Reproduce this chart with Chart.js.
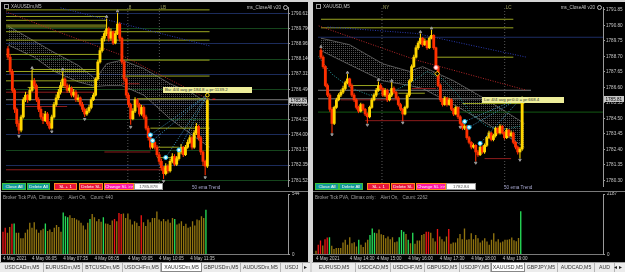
<!DOCTYPE html>
<html>
<head>
<meta charset="utf-8">
<title>XAUUSD M5</title>
<script src="https://cdn.jsdelivr.net/npm/chart.js@4.4.1/dist/chart.umd.min.js"></script>
<style>
  body { margin:0; width:625px; height:272px; overflow:hidden; background:#d4d4d4; position:relative; font-family:'Liberation Sans', Arial, sans-serif; }
  .pane { position:absolute; top:2px; height:260px; background:#000; overflow:hidden; }
  .pane canvas { position:absolute; left:0; }
  .sep { position:absolute; left:0; right:0; top:189px; height:1px; background:#7a7a7a; }
  .lbl { position:absolute; font-size:4.6px; line-height:5px; color:#c0c0c0; white-space:nowrap; }
  .ico { display:inline-block; width:3px; height:3px; border:1px solid #9a9a9a; margin-right:2px; vertical-align:middle; }
  .circ { display:inline-block; width:3px; height:3px; border:1px solid #bbb; border-radius:50%; margin-left:2px; vertical-align:middle; }
  .btn { position:absolute; top:181px; height:7px; box-sizing:border-box; border:1px solid; font-size:4.4px; line-height:5px; color:#fff; text-align:center; white-space:nowrap; }
  .teal { background:#139a9a; border-color:#3cc23c; }
  .red { background:#e8143c; border-color:#ff8a1a; }
  .pink { background:#ff18a8; border-color:#ff8a1a; }
  .box { background:#fff; border-color:#999; color:#555; }
  .note { position:absolute; height:6px; background:#eded9a; color:#333; font-size:4.4px; line-height:6px; padding-left:2px; white-space:nowrap; box-sizing:border-box; }
  .tabs { position:absolute; top:262px; height:10px; background:#ececec; border-top:1px solid #a0a0a0; box-sizing:border-box; }
  .tab { position:absolute; top:0; height:9px; font-size:5.2px; line-height:9px; color:#333; text-align:center; border-right:1px solid #b4b4b4; box-sizing:border-box; white-space:nowrap; overflow:hidden; }
  .tab.on { background:#fff; border:1px solid #888; border-top:none; }
  .arrow { position:absolute; top:0; font-size:6px; line-height:9px; color:#222; }
</style>
</head>
<body>

<div class="pane" style="left:1px;width:307px">
  <canvas id="mainL" width="307" height="189" style="top:0"></canvas>
  <div class="sep"></div>
  <canvas id="volL" width="307" height="70" style="top:190px"></canvas>
  <div class="lbl" style="left:3px;top:2px"><span class="ico"></span>XAUUSDm,M5</div>
  <div class="lbl" style="right:20px;top:3px">ms_CloseAll v20<span class="circ"></span></div>
  <div class="note" style="left:162px;top:85px;width:89px">Bu: 4/4 avg pr:184.8 = pr:1139.2</div>
  <div class="btn teal" style="left:1px;width:24px">Close All</div>
  <div class="btn teal" style="left:26px;width:23px">Delete All</div>
  <div class="btn red" style="left:53px;width:23px">SL + 1</div>
  <div class="btn red" style="left:78px;width:24px">Delete SL</div>
  <div class="btn pink" style="left:103px;width:30px">Change SL &gt;&gt;</div>
  <div class="btn box" style="left:133px;width:29px">1785.878</div>
  <div class="lbl" style="left:191px;top:183px;color:#a8a8d0">50 ema Trend</div>
  <div class="lbl" style="left:2px;top:193px;color:#a0a0a0">Broker Tick PVA, Climax only:&nbsp;&nbsp;&nbsp; Alert On,&nbsp;&nbsp; Count: 440</div>
</div>

<div class="pane" style="left:313px;width:312px">
  <canvas id="mainR" width="312" height="189" style="top:0"></canvas>
  <div class="sep"></div>
  <canvas id="volR" width="312" height="70" style="top:190px"></canvas>
  <div class="lbl" style="left:3px;top:2px"><span class="ico"></span>XAUUSD,M5</div>
  <div class="lbl" style="right:23px;top:3px">ms_CloseAll v20<span class="circ"></span></div>
  <div class="note" style="left:169px;top:95px;width:82px">Lo: 4/4 avg pr:0.0 = pr:668.4</div>
  <div class="btn teal" style="left:2px;width:24px">Close All</div>
  <div class="btn teal" style="left:26px;width:24px">Delete All</div>
  <div class="btn red" style="left:54px;width:23px">SL + 1</div>
  <div class="btn red" style="left:78px;width:24px">Delete SL</div>
  <div class="btn pink" style="left:103px;width:30px">Change SL &gt;&gt;</div>
  <div class="btn box" style="left:133px;width:30px">1782.84</div>
  <div class="lbl" style="left:191px;top:183px;color:#a8a8d0">50 ema Trend</div>
  <div class="lbl" style="left:2px;top:193px;color:#a0a0a0">Broker Tick PVA, Climax only:&nbsp;&nbsp;&nbsp; Alert On,&nbsp;&nbsp; Count: 2262</div>
</div>

<div class="tabs" id="tabsL" style="left:0;width:310px"></div>
<div class="tabs" id="tabsR" style="left:312px;width:313px"></div>

<script>
const FONT = "'Liberation Sans', Arial, sans-serif";
const BULL = '#ffd600';
const BEAR = '#ff3000';
const VOLCOL = { o: '#927510', r: '#ee1414', g: '#26dc58' };

// ---- left window: XAUUSDm, M5 ----
const openL = [
  1788.70,1788.24,1787.47,1786.43,1785.40,1784.62,1784.26,1784.98,1785.92,1786.17,
  1785.92,1786.43,1786.95,1786.69,1785.92,1785.40,1784.98,1784.78,1785.14,1784.62,
  1784.37,1784.98,1785.66,1786.02,1786.33,1786.69,1787.05,1786.69,1786.43,1786.54,
  1786.17,1786.33,1785.92,1786.02,1785.66,1785.40,1785.14,1785.30,1785.50,1785.92,
  1786.17,1787.05,1787.98,1788.60,1789.27,1789.53,1789.79,1789.27,1789.63,1789.01,
  1789.53,1790.05,1789.27,1787.98,1787.05,1786.17,1785.66,1784.88,1785.30,1785.92,
  1785.66,1785.14,1785.50,1784.98,1784.37,1783.85,1783.33,1783.59,1783.33,1782.92,
  1782.56,1782.20,1781.89,1782.30,1782.04,1782.56,1782.82,1782.40,1782.71,1783.07,
  1783.33,1782.92,1783.33,1783.59,1783.85,1783.33,1784.11,1784.47,1783.85,1783.07,
  1782.56,1782.30];
const highL = [
  1788.85,1788.40,1787.60,1786.55,1785.50,1784.80,1785.10,1786.05,1786.35,1786.25,
  1786.60,1787.55,1787.10,1786.80,1786.05,1785.55,1785.20,1785.30,1785.25,1784.75,
  1785.10,1785.80,1786.20,1786.50,1786.90,1787.45,1787.15,1786.80,1786.75,1786.65,
  1786.50,1786.45,1786.20,1786.10,1785.80,1785.50,1785.45,1785.65,1786.05,1786.30,
  1787.15,1788.10,1788.75,1789.40,1789.70,1790.35,1789.90,1789.80,1789.70,1789.70,
  1790.65,1790.15,1789.35,1788.10,1787.15,1786.30,1785.75,1785.45,1786.05,1786.00,
  1785.75,1785.65,1785.60,1785.10,1784.50,1783.95,1783.75,1783.70,1783.45,1783.05,
  1782.70,1782.30,1782.45,1782.40,1782.70,1783.00,1782.95,1782.85,1783.20,1783.50,
  1783.40,1783.45,1783.75,1784.00,1783.95,1784.25,1784.65,1784.55,1783.95,1783.15,
  1782.65,1785.95];
const lowL = [
  1788.10,1787.30,1786.30,1785.20,1784.45,1784.05,1784.15,1784.90,1785.80,1785.75,
  1785.85,1786.35,1786.50,1785.80,1785.25,1784.85,1784.60,1784.70,1784.50,1784.30,
  1784.30,1784.90,1785.55,1785.90,1786.20,1786.60,1786.55,1786.30,1786.30,1786.05,
  1786.05,1785.80,1785.80,1785.55,1785.25,1784.98,1785.05,1785.20,1785.40,1785.85,
  1786.10,1786.95,1787.90,1788.50,1789.10,1789.40,1789.10,1789.15,1788.90,1788.95,
  1789.45,1789.10,1787.85,1786.90,1786.00,1785.50,1784.55,1784.80,1785.20,1785.50,
  1785.00,1785.05,1784.85,1784.25,1783.70,1783.20,1783.25,1783.20,1782.80,1782.40,
  1782.05,1781.60,1781.80,1781.90,1781.95,1782.45,1782.30,1782.30,1782.60,1782.95,
  1782.80,1782.85,1783.25,1783.50,1783.20,1783.25,1784.00,1783.70,1782.90,1782.30,
  1781.80,1782.20];
const closeL = [
  1788.24,1787.47,1786.43,1785.40,1784.62,1784.26,1784.98,1785.92,1786.17,1785.92,
  1786.43,1786.95,1786.69,1785.92,1785.40,1784.98,1784.78,1785.14,1784.62,1784.37,
  1784.98,1785.66,1786.02,1786.33,1786.69,1787.05,1786.69,1786.43,1786.54,1786.17,
  1786.33,1785.92,1786.02,1785.66,1785.40,1785.14,1785.30,1785.50,1785.92,1786.17,
  1787.05,1787.98,1788.60,1789.27,1789.53,1789.79,1789.27,1789.63,1789.01,1789.53,
  1790.05,1789.27,1787.98,1787.05,1786.17,1785.66,1784.88,1785.30,1785.92,1785.66,
  1785.14,1785.50,1784.98,1784.37,1783.85,1783.33,1783.59,1783.33,1782.92,1782.56,
  1782.20,1781.89,1782.30,1782.04,1782.56,1782.82,1782.40,1782.71,1783.07,1783.33,
  1782.92,1783.33,1783.59,1783.85,1783.33,1784.11,1784.47,1783.85,1783.07,1782.56,
  1782.30,1785.878];
const volL = [
  206,241,197,247,276,279,197,197,147,147,
  197,226,285,241,291,226,197,218,232,279,
  212,226,203,241,265,247,206,379,344,335,
  353,329,329,315,306,285,262,226,285,320,
  365,335,300,320,294,335,279,276,265,306,
  320,300,373,365,368,329,368,315,270,300,
  285,256,353,291,256,315,291,329,329,388,
  315,300,320,300,315,285,329,320,270,279,
  300,256,276,241,250,300,262,315,309,344,
  329,403];
const volTypeL = ('rroorg' + 'ooooooooooooo' + 'g' + 'ooooooo' + 'ggg' + 'ooooooooo' + 'g' +
  'ooooo' + 'g' + 'oooo' + 'r' + 'o' + 'rr' + 'oooooooo' + 'r' + 'oooooooooooooo' + 'g' +
  'ooooooooooooo' + 'g').split('');
const priceTicksL = [1790.615, 1789.790, 1788.965, 1788.140, 1787.315, 1786.490,
  1785.650, 1784.825, 1784.000, 1783.175, 1782.350, 1781.525];
const dateAtL = [0, 13, 27, 41, 56, 70, 84];
const datesL = ['4 May 2021', '4 May 06:05', '4 May 07:35', '4 May 08:05', '4 May 09:05', '4 May 10:05', '4 May 11:35'];
// [price, from bar, to bar]
const levelsL = [
  [1790.82,-1,92],[1790.46,-1,45],[1790.25,-1,45],[1789.99,-1,45],[1789.89,-1,45],
  [1789.63,-1,92],[1789.17,-1,92],[1788.39,-1,42],[1788.08,51,92],[1787.57,11,40],
  [1787.46,-1,40],[1787.21,52,92],[1786.95,-1,40],[1786.59,9,40],[1785.97,59,92],
  [1784.37,65,92],[1783.33,68,78],[1782.76,68,78]];
const redLevelsL = [[1786.79,52,60],[1786.33,-1,40],[1785.55,8,27],[1783.07,44,65],[1782.10,-1,74]];
const greyLevelsL = [[1785.92,-1,128]];
const navyLevelsL = [];
const greenLevelsL = [];
// [bar, upper, lower]
const bandL = [[0,1789.94,1788.91],[12,1789.12,1788.24],[21,1788.50,1787.47],[32,1787.80,1786.90],
  [40,1787.05,1786.64],[45,1787.88,1786.69],[52,1788.08,1786.69],[62,1787.62,1786.17],
  [74,1786.79,1784.88],[84,1786.28,1784.00],[92,1785.66,1783.33]];
const maRedL = [[-1,1790.72],[25,1789.53],[51,1788.39],[92,1785.92]];
const maBlueL = [[24,1790.93],[58,1789.89],[92,1788.86]];
const maTealL = [];
const sessionsL = [54.7, 69.1];
const sessionTextL = ['8', 'LB'];
const ringsL = [[65,1784.00],[66,1783.69],[72,1782.77],[78,1783.18]];
const fanToL = [91, 1786.20];
const swingHighL = [[11,1787.65],[25,1787.58],[45,1790.45],[50,1790.75]];
const swingLowL = [[5,1783.93],[20,1784.18],[35,1784.86],[56,1784.43],[71,1781.48],[90,1781.68]];

// ---- right window: XAUUSD, M5 ----
const openR = [
  1789.10,1788.64,1788.00,1786.72,1786.07,1785.11,1784.15,1785.24,1785.75,1786.07,
  1786.27,1786.52,1786.91,1787.17,1786.72,1786.07,1785.75,1785.24,1784.98,1785.43,
  1785.11,1784.79,1784.60,1785.24,1785.75,1786.07,1786.40,1786.72,1786.52,1786.07,
  1786.40,1785.75,1786.07,1786.52,1786.27,1785.88,1785.43,1785.11,1784.79,1785.24,
  1786.07,1787.04,1788.00,1788.64,1789.28,1789.60,1789.93,1789.48,1789.73,1789.28,
  1789.93,1790.12,1789.28,1788.00,1786.72,1785.75,1785.43,1785.88,1785.43,1785.75,
  1785.11,1784.79,1785.24,1784.60,1784.15,1783.83,1783.96,1783.19,1782.87,1782.55,
  1782.67,1782.22,1782.03,1782.55,1782.22,1782.67,1783.19,1783.51,1783.06,1783.32,
  1783.83,1783.51,1783.96,1783.51,1783.19,1783.70,1783.32,1783.51,1782.87,1782.55,
  1782.22,1782.42];
const highR = [
  1789.25,1788.75,1788.10,1786.85,1786.20,1785.25,1785.35,1785.90,1786.20,1786.45,
  1786.70,1787.05,1787.50,1787.25,1786.85,1786.20,1785.85,1785.35,1785.55,1785.50,
  1785.20,1784.90,1785.35,1785.90,1786.20,1786.55,1787.00,1786.85,1786.60,1786.55,
  1786.50,1786.20,1786.95,1786.65,1786.35,1786.00,1785.55,1785.20,1785.35,1786.20,
  1787.15,1788.15,1788.80,1789.45,1789.75,1790.25,1790.00,1789.90,1789.80,1790.05,
  1790.50,1790.20,1789.35,1788.10,1786.85,1785.85,1786.00,1785.95,1785.90,1785.85,
  1785.20,1785.35,1785.30,1784.70,1784.25,1784.10,1784.05,1783.30,1782.95,1782.80,
  1782.75,1782.35,1782.70,1782.65,1782.80,1783.30,1783.65,1783.60,1783.45,1783.95,
  1783.90,1784.10,1784.05,1783.60,1783.85,1783.80,1783.65,1783.60,1782.95,1782.65,
  1782.55,1785.98];
const lowR = [
  1788.50,1787.85,1786.60,1785.95,1784.95,1783.50,1784.05,1785.15,1785.65,1785.95,
  1786.15,1786.40,1786.80,1786.60,1785.95,1785.60,1785.10,1784.85,1784.90,1785.00,
  1784.65,1784.15,1784.50,1785.15,1785.65,1785.95,1786.30,1786.40,1785.95,1785.95,
  1785.60,1785.65,1785.95,1786.15,1785.75,1785.30,1785.00,1784.30,1784.70,1785.15,
  1785.95,1786.95,1787.90,1788.55,1789.15,1789.50,1789.35,1789.40,1789.15,1789.20,
  1789.85,1789.15,1787.85,1786.60,1785.60,1785.30,1785.35,1785.30,1785.35,1785.00,
  1784.65,1784.70,1784.45,1784.00,1783.70,1783.70,1783.05,1782.75,1782.40,1782.45,
  1781.58,1781.90,1781.95,1782.10,1782.10,1782.55,1783.10,1782.95,1782.95,1783.20,
  1783.40,1783.40,1783.40,1783.05,1783.10,1783.20,1783.20,1782.75,1782.40,1782.05,
  1781.78,1782.30];
const closeR = [
  1788.64,1788.00,1786.72,1786.07,1785.11,1784.15,1785.24,1785.75,1786.07,1786.27,
  1786.52,1786.91,1787.17,1786.72,1786.07,1785.75,1785.24,1784.98,1785.43,1785.11,
  1784.79,1784.60,1785.24,1785.75,1786.07,1786.40,1786.72,1786.52,1786.07,1786.40,
  1785.75,1786.07,1786.52,1786.27,1785.88,1785.43,1785.11,1784.79,1785.24,1786.07,
  1787.04,1788.00,1788.64,1789.28,1789.60,1789.93,1789.48,1789.73,1789.28,1789.93,
  1790.12,1789.28,1788.00,1786.72,1785.75,1785.43,1785.88,1785.43,1785.75,1785.11,
  1784.79,1785.24,1784.60,1784.15,1783.83,1783.96,1783.19,1782.87,1782.55,1782.67,
  1782.22,1782.03,1782.55,1782.22,1782.67,1783.19,1783.51,1783.06,1783.32,1783.83,
  1783.51,1783.96,1783.51,1783.19,1783.70,1783.32,1783.51,1782.87,1782.55,1782.22,
  1782.42,1785.81];
const volR = [
  142,355,508,331,556,615,627,319,201,236,
  236,236,437,532,355,627,414,449,296,532,
  355,272,437,532,709,946,792,769,910,733,
  709,591,650,556,627,449,473,627,887,828,
  745,532,414,792,390,508,508,709,745,828,
  828,792,591,473,922,650,556,473,650,922,
  390,437,437,591,745,556,946,532,556,769,
  556,709,591,437,508,591,473,355,532,769,
  473,556,437,473,532,532,556,615,520,480,
  600,1560];
const volTypeR = ('orrorrg' + 'oooooooooooo' + 'g' + 'oooo' + 'ggg' + 'oooooooooo' + 'ggg' +
  'o' + 'g' + 'o' + 'g' + 'ooooo' + 'rr' + 'ooo' + 'r' + 'oooo' + 'r' +
  'ooooooooooooooooooooooooooooooo' + 'g').split('');
const priceTicksR = [1791.85, 1790.80, 1789.75, 1788.70, 1787.65, 1786.60,
  1785.55, 1784.50, 1783.45, 1782.40, 1781.35, 1780.30];
const dateAtR = [0, 15, 27, 41, 55, 69, 83];
const datesR = ['4 May 2021', '4 May 14:30', '4 May 15:00', '4 May 16:00', '4 May 17:30', '4 May 18:00', '4 May 19:00'];
const levelsR = [[1791.21,0,87],[1790.63,0,87],[1788.64,52,87],[1786.72,13,26],[1786.20,35,47],[1785.50,64,92]];
const redLevelsR = [[1786.52,41,52],[1785.75,9,35],[1784.34,20,63],[1781.77,74,86]];
const greyLevelsR = [[1786.40,-2,95],[1785.82,-2,95]];
const navyLevelsR = [[1789.99,-2,130]];
const greenLevelsR = [[1784.92,-2,130]];
const bandR = [[0,1789.93,1789.09],[13,1789.48,1788.13],[28,1788.19,1787.04],[40,1787.68,1786.72],
  [46,1788.00,1786.52],[60,1787.04,1785.43],[75,1785.75,1784.15],[92,1784.15,1782.55]];
const maRedR = [[-1,1790.76],[43,1788.45],[93,1786.40]];
const maBlueR = [[3,1790.69],[43,1790.25],[93,1788.64]];
const maTealR = [[-2,1788.83],[5,1787.49],[13,1786.59],[22,1786.07],[32,1786.27],[42,1787.04],
  [48,1787.68],[55,1787.17],[62,1786.07],[68,1784.79],[75,1783.96],[81,1783.70],[90,1783.96]];
const sessionsR = [27.6, 83.1];
const sessionTextR = ['NY', 'LC'];
const ringsR = [[65,1784.28],[67,1783.89],[72,1782.80]];
const fanToR = [91, 1785.95];
const swingHighR = [[0,1789.35],[12,1787.60],[26,1787.10],[32,1787.05],[45,1790.35],[50,1790.60]];
const swingLowR = [[5,1783.40],[21,1784.05],[37,1784.20],[63,1783.90],[70,1781.48],[90,1781.68]];

Chart.defaults.font.family = FONT;
Chart.defaults.color = '#c8c8c8';

// grey price box on the axis at the last close
const priceTag = {
  id: 'priceTag',
  afterDraw(chart, args, opts) {
    if (!opts.text) return;
    const y = chart.scales.y;
    const py = y.getPixelForValue(opts.value);
    const c = chart.ctx;
    c.save();
    c.fillStyle = '#c8c8c8';
    c.fillRect(y.left + 1, py - 3, y.width - 2, 6);
    c.fillStyle = '#000';
    c.font = '4.6px ' + FONT;
    c.textBaseline = 'middle';
    c.fillText(opts.text, y.left + 2.5, py + 0.3);
    c.restore();
  }
};

// session names at the top of the dotted separators
const sessionTags = {
  id: 'sessionTags',
  afterDatasetsDraw(chart, args, opts) {
    if (!opts.at) return;
    const c = chart.ctx, x = chart.scales.x;
    c.save();
    c.font = '4.6px ' + FONT;
    c.fillStyle = '#a0a060';
    c.textBaseline = 'top';
    opts.at.forEach((v, i) => c.fillText(opts.text[i], x.getPixelForValue(v) + 1, 3));
    c.restore();
  }
};

function mainChart(id, d) {
  const ctx = document.getElementById(id).getContext('2d');
  const tile = document.createElement('canvas');
  tile.width = 2; tile.height = 2;
  const tc = tile.getContext('2d');
  tc.fillStyle = 'rgba(190,190,190,0.42)';
  tc.fillRect(0, 0, 1, 1);
  const hatch = ctx.createPattern(tile, 'repeat');

  const colors = d.open.map((o, i) => d.close[i] >= o ? BULL : BEAR);
  const line = (pts, color, dash, order, width) => ({
    type: 'line', data: pts.map(p => ({ x: p[0], y: p[1] })),
    borderColor: color, borderWidth: width || 1, borderDash: dash || [],
    pointRadius: 0, fill: false, order
  });
  const dots = (pts, style, r, stroke, fillc, rot, order) => ({
    type: 'line', showLine: false, data: pts.map(p => ({ x: p[0], y: p[1] })),
    pointStyle: style, pointRadius: r, pointBorderColor: stroke, pointBackgroundColor: fillc,
    pointBorderWidth: 1, pointRotation: rot || 0, order
  });
  const flat = (arr, color, order) => arr.forEach(l => ds.push(line([[l[1], l[0]], [l[2], l[0]]], color, [], order)));

  const ds = [];
  ds.push({ type: 'line', data: d.band.map(b => ({ x: b[0], y: b[1] })), borderColor: '#7c7c7c', borderWidth: 0.7,
    pointRadius: 0, fill: '+1', backgroundColor: hatch, order: 30 });
  ds.push({ type: 'line', data: d.band.map(b => ({ x: b[0], y: b[2] })), borderColor: '#7c7c7c', borderWidth: 0.7,
    pointRadius: 0, fill: false, order: 30 });
  flat(d.navy, '#1c2c64', 29);
  flat(d.green, '#145a14', 29);
  d.sessions.forEach(x => ds.push(line([[x, d.yMin], [x, d.yMax]], '#6e6e6e', [1, 2], 28, 0.8)));
  flat(d.grey, '#7c7c7c', 27);
  flat(d.red, '#8e1c1c', 26);
  flat(d.levels, '#9aa520', 25);
  ds.push(line(d.maRed, '#b8282a', [1, 1.5], 20, 1));
  ds.push(line(d.maBlue, '#2a3ab0', [1, 1.5], 20, 1));
  if (d.maTeal.length) ds.push(line(d.maTeal, '#2a9a9a', [1, 1.5], 20, 1));
  ds.push({ type: 'bar', data: d.low.map((l, i) => ({ x: i, y: [l, d.high[i]] })), backgroundColor: colors,
    grouped: false, categoryPercentage: 1, barPercentage: 0.5, order: 6 });
  ds.push({ type: 'bar', data: d.open.map((o, i) => ({ x: i, y: [o, d.close[i]] })), backgroundColor: colors,
    grouped: false, categoryPercentage: 1, barPercentage: 1, order: 5 });
  d.rings.forEach(r => ds.push(line([r, d.fanTo], '#4ab4e4', [1, 1.5], 4, 0.8)));
  ds.push(dots(d.rings, 'circle', 2, '#18c0f0', '#e8fbff', 0, 2));
  ds.push(dots(d.swingHigh, 'triangle', 1.4, '#9a9a9a', '#9a9a9a', 0, 2));
  ds.push(dots(d.swingLow, 'triangle', 1.4, '#9a9a9a', '#9a9a9a', 180, 2));
  d.extra.forEach(e => ds.push(e));

  return new Chart(ctx, {
    type: 'bar',
    data: { datasets: ds },
    plugins: [priceTag, sessionTags],
    options: {
      responsive: false, animation: false, devicePixelRatio: 1, events: [],
      layout: { padding: 0 },
      plugins: {
        legend: { display: false }, tooltip: { enabled: false },
        priceTag: { value: d.close[d.close.length - 1], text: d.lastText },
        sessionTags: { at: d.sessions, text: d.sessionText }
      },
      scales: {
        x: { type: 'linear', display: false, min: d.xMin, max: d.xMax, offset: false },
        y: {
          position: 'right', min: d.yMin, max: d.yMax,
          afterBuildTicks: ax => { ax.ticks = d.ticks.map(v => ({ value: v })); },
          afterFit: ax => { ax.width = d.axisW; ax.paddingTop = 0; ax.paddingBottom = 0; },
          ticks: { autoSkip: false, padding: 1, font: { size: 4.6 }, color: '#c8c8c8',
            callback: v => v.toFixed(d.dec) },
          grid: { drawOnChartArea: d.gridOn, tickLength: 2, tickColor: '#9a9a9a',
            color: c => c.index % 2 ? '#15451c' : '#1c2c5c' },
          border: { color: '#9a9a9a' }
        }
      }
    }
  });
}

function volumeChart(id, d) {
  const ctx = document.getElementById(id).getContext('2d');
  return new Chart(ctx, {
    type: 'bar',
    data: { datasets: [{ data: d.vol.map((v, i) => ({ x: i, y: v })), backgroundColor: d.vtype.map(t => VOLCOL[t]),
      grouped: false, categoryPercentage: 1, barPercentage: 0.6 }] },
    options: {
      responsive: false, animation: false, devicePixelRatio: 1, events: [],
      layout: { padding: { top: 2 } },
      plugins: { legend: { display: false }, tooltip: { enabled: false } },
      scales: {
        x: {
          type: 'linear', min: d.xMin, max: d.xMax, offset: false,
          afterBuildTicks: ax => { ax.ticks = d.dateAt.map(v => ({ value: v })); },
          afterFit: ax => { ax.paddingLeft = 0; ax.paddingRight = 0; },
          ticks: { autoSkip: false, maxRotation: 0, align: 'start', padding: 1, font: { size: 4.5 }, color: '#c8c8c8',
            callback: (v, i) => d.dates[i] },
          grid: { display: false, drawTicks: false },
          border: { display: true, color: '#7a7a7a' }
        },
        y: {
          position: 'right', min: 0, max: d.volMax,
          afterBuildTicks: ax => { ax.ticks = [{ value: 0 }, { value: d.volMax }]; },
          afterFit: ax => { ax.width = d.axisW; ax.paddingTop = 0; ax.paddingBottom = 0; },
          ticks: { autoSkip: false, padding: 2, font: { size: 4.5 }, color: '#c8c8c8', callback: v => String(v) },
          grid: { drawOnChartArea: false, tickLength: 2, color: '#9a9a9a' },
          border: { color: '#9a9a9a' }
        }
      }
    }
  });
}

mainChart('mainL', {
  open: openL, high: highL, low: lowL, close: closeL, ticks: priceTicksL, dec: 3,
  levels: levelsL, red: redLevelsL, grey: greyLevelsL, navy: navyLevelsL, green: greenLevelsL,
  band: bandL, maRed: maRedL, maBlue: maBlueL, maTeal: maTealL,
  sessions: sessionsL, sessionText: sessionTextL, rings: ringsL, fanTo: fanToL,
  swingHigh: swingHighL, swingLow: swingLowL, lastText: '1785.878',
  extra: [
    { type: 'line', showLine: false, data: [{ x: 91, y: 1786.17 }], pointStyle: 'circle', pointRadius: 1.8,
      pointBorderColor: '#ffd600', pointBackgroundColor: '#000', pointBorderWidth: 1, order: 1 },
    { type: 'line', showLine: false, data: [{ x: 94, y: 1785.95 }], pointStyle: 'line', pointRadius: 1.5,
      pointBorderColor: '#ff2020', pointBorderWidth: 1, order: 1 }
  ],
  xMin: -0.9, xMax: 127.8, yMin: 1781.215, yMax: 1790.977, axisW: 20, gridOn: true
});
volumeChart('volL', { vol: volL, vtype: volTypeL, volMax: 544, dateAt: dateAtL, dates: datesL,
  xMin: -0.9, xMax: 127.8, axisW: 20 });

mainChart('mainR', {
  open: openR, high: highR, low: lowR, close: closeR, ticks: priceTicksR, dec: 2,
  levels: levelsR, red: redLevelsR, grey: greyLevelsR, navy: navyLevelsR, green: greenLevelsR,
  band: bandR, maRed: maRedR, maBlue: maBlueR, maTeal: maTealR,
  sessions: sessionsR, sessionText: sessionTextR, rings: ringsR, fanTo: fanToR,
  swingHigh: swingHighR, swingLow: swingLowR, lastText: '1785.81',
  extra: [
    { type: 'line', showLine: false, data: [{ x: 52, y: 1787.94 }], pointStyle: 'circle', pointRadius: 2,
      pointBorderColor: '#ff8a8a', pointBackgroundColor: '#fff0f0', pointBorderWidth: 1, order: 1 },
    { type: 'line', showLine: false, data: [{ x: 52.6, y: 1787.52 }], pointStyle: 'rectRot', pointRadius: 2.4,
      pointBorderColor: '#ffd200', pointBackgroundColor: '#000', pointBorderWidth: 1, order: 1 }
  ],
  xMin: -1.33, xMax: 127.56, yMin: 1779.914, yMax: 1792.04, axisW: 22, gridOn: false
});
volumeChart('volR', { vol: volR, vtype: volTypeR, volMax: 2187, dateAt: dateAtR, dates: datesR,
  xMin: -1.33, xMax: 127.56, axisW: 22 });

// symbol tabs along the bottom
const tabsL = ['USDCADm,M5', 'EURUSDm,M5', 'BTCUSDm,M5', 'USDCHFm,M5', 'XAUUSDm,M5', 'GBPUSDm,M5', 'AUDUSDm,M5', 'USDJ'];
const tabWL = [43, 39, 40, 38, 41, 39, 40, 22];
const tabsR = ['EURUSD,M5', 'USDCAD,M5', 'USDCHF,M5', 'GBPUSD,M5', 'USDJPY,M5', 'XAUUSD,M5', 'GBPJPY,M5', 'AUDCAD,M5', 'AUD'];
const tabWR = [43, 35, 34, 35, 31, 34, 33, 37, 20];

function buildTabs(el, names, widths, active, arrowText, arrowX) {
  const bar = document.getElementById(el);
  let x = 1;
  names.forEach((n, i) => {
    const t = document.createElement('div');
    t.className = 'tab' + (i === active ? ' on' : '');
    t.style.left = x + 'px';
    t.style.width = widths[i] + 'px';
    t.textContent = n;
    bar.appendChild(t);
    x += widths[i];
  });
  const a = document.createElement('div');
  a.className = 'arrow';
  a.style.left = arrowX + 'px';
  a.textContent = arrowText;
  bar.appendChild(a);
}
buildTabs('tabsL', tabsL, tabWL, 4, '▸', 304);
buildTabs('tabsR', tabsR, tabWR, 5, '◂ ▸', 302);
</script>
</body>
</html>
